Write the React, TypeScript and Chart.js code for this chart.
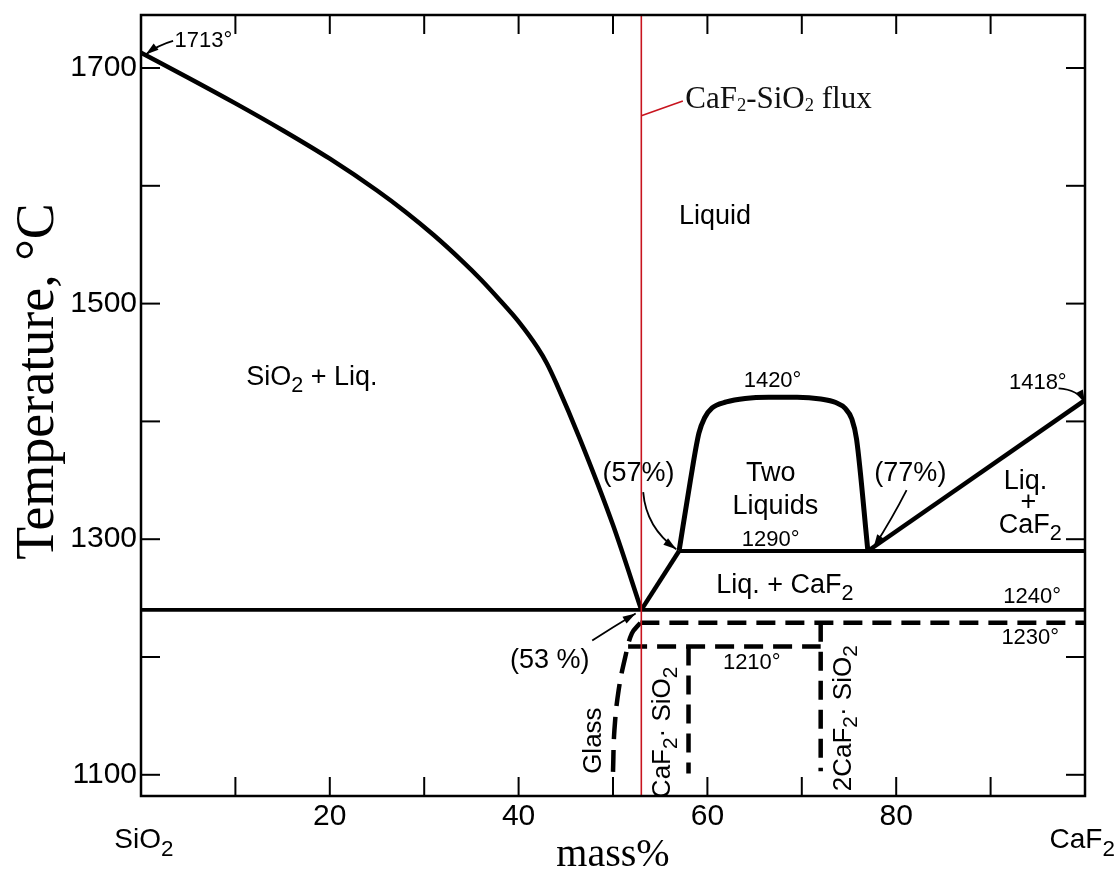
import { useEffect, useRef } from "react";
import { Chart, registerables } from "chart.js";

Chart.register(...registerables);

type Pt = [number, number];
type Note = [string, number, number];

// ---------------- axes ----------------
const X_MIN = 0;
const X_MAX = 100;
const Y_MIN = 1082;
const Y_MAX = 1745;
const xTickValues = [0, 10, 20, 30, 40, 50, 60, 70, 80, 90, 100];
const xTickLabels = ["", "", "20", "", "40", "", "60", "", "80", "", ""];
const yTickValues = [1100, 1200, 1300, 1400, 1500, 1600, 1700];
const yTickLabels = ["1100", "", "1300", "", "1500", "", "1700"];
// end-member names, placed below the composition axis (data units)
const componentNames: Note[] = [
  ["SiO_2", 0.3, 1044],
  ["CaF_2", 99.7, 1044],
];
const xTitle = "mass%";
const yTitle = "Temperature, °C";

// ---------------- phase boundaries (mass% CaF2, °C) ----------------
const silicaLiquidus: Pt[] = [
  [0, 1713], [5, 1691.8], [10, 1670], [15, 1647.2], [20, 1623], [25, 1596],
  [28, 1578], [31, 1558.2], [34, 1536.3], [36, 1520.5], [38, 1503.1],
  [40, 1484.7], [42, 1462.7], [43, 1449.2], [44, 1432.2], [46.5, 1385],
  [50, 1312], [53, 1240],
];
const eutecticBranch: Pt[] = [[53, 1240], [57, 1290]];
const twoLiquidDome: Pt[] = [
  [57, 1290], [58.2, 1350], [59.1, 1390], [59.7, 1403], [60.5, 1411.5],
  [62, 1416.5], [64, 1419.5], [66.5, 1420.5], [69.5, 1420.5], [72, 1419],
  [73.6, 1416], [74.6, 1411], [75.3, 1402], [75.8, 1385], [77, 1290],
];
const fluoriteLiquidus: Pt[] = [[77, 1290], [100, 1418]];
const monotectic1290: Pt[] = [[57, 1290], [100, 1290]];
const eutectic1240: Pt[] = [[0, 1240], [100, 1240]];
const solidus1230: Pt[] = [[52.9, 1229], [100, 1229]];
const solidus1210: Pt[] = [[51.6, 1209], [72, 1209]];
const compoundCS: Pt[] = [[58, 1209], [58, 1101]];
const compound2CS: Pt[] = [[72, 1229], [72, 1103]];
const glassCurve: Pt[] = [
  [52.9, 1229], [52.0, 1220], [51.3, 1200], [50.6, 1172], [50.15, 1138], [50, 1102],
];
const fluxLine: Pt[] = [[53, Y_MIN], [53, Y_MAX]];

// ---------------- annotations (data units) ----------------
const degreeNotes: Note[] = [
  ["1713°", 6.6, 1723],
  ["1420°", 66.9, 1434],
  ["1418°", 95.0, 1433],
  ["1290°", 66.7, 1299],
  ["1240°", 94.4, 1251],
  ["1230°", 94.2, 1216],
  ["1210°", 64.7, 1195],
];
const regionNotes: Note[] = [
  ["Liquid", 60.8, 1574],
  ["SiO_2 + Liq.", 18.1, 1437],
  ["(57%)", 52.7, 1356],
  ["Two", 66.7, 1356],
  ["Liquids", 67.2, 1328],
  ["(77%)", 81.5, 1356],
  ["Liq.", 93.7, 1349],
  ["+", 94.0, 1331],
  ["CaF_2", 94.2, 1312],
  ["Liq. + CaF_2", 68.2, 1261],
  ["(53 %)", 43.3, 1197],
];
const rotatedNotes: Note[] = [
  ["Glass", 48.0, 1129],
  ["CaF_2· SiO_2", 55.3, 1136],
  ["2CaF_2· SiO_2", 74.4, 1148],
];
const arrowNotes: Pt[][] = [
  [[3.4, 1723], [1.8, 1719.4], [0.5, 1711.5]],
  [[53.2, 1340], [53.5, 1310], [56.7, 1291.5]],
  [[81.1, 1341.7], [79.6, 1318], [77.6, 1293]],
  [[97.2, 1428], [99.3, 1427], [100, 1415.6]],
  [[47.8, 1214], [50.0, 1225.5], [52.4, 1237]],
];
const fluxNote: Note = ["CaF_2-SiO_2 flux", 57.65, 1673];
const fluxLeader: Pt[] = [[53, 1659.5], [57.4, 1672]];

const SANS = '"Liberation Sans", Arial, sans-serif';
const SERIF = '"Liberation Serif", "Times New Roman", serif';
const FLUX_RED = "#c8141e";

function drawRich(
  ctx: CanvasRenderingContext2D,
  text: string,
  x: number,
  y: number,
  size: number,
  family: string,
  align: "left" | "center" | "right",
  subScale: number,
  subDrop: number
) {
  const segs: { s: string; sub: boolean }[] = [];
  for (let i = 0; i < text.length; i++) {
    if (text[i] === "_" && i + 1 < text.length) {
      segs.push({ s: text[i + 1], sub: true });
      i++;
    } else if (segs.length && !segs[segs.length - 1].sub) {
      segs[segs.length - 1].s += text[i];
    } else {
      segs.push({ s: text[i], sub: false });
    }
  }
  const f = (sub: boolean) => `${sub ? size * subScale : size}px ${family}`;
  let total = 0;
  const widths = segs.map((seg) => {
    ctx.font = f(seg.sub);
    const w = ctx.measureText(seg.s).width;
    total += w;
    return w;
  });
  let cx = align === "center" ? x - total / 2 : align === "right" ? x - total : x;
  ctx.textAlign = "left";
  ctx.textBaseline = "middle";
  segs.forEach((seg, i) => {
    ctx.font = f(seg.sub);
    ctx.fillText(seg.s, cx, y + (seg.sub ? size * subDrop : 0));
    cx += widths[i];
  });
}

const decorPlugin = {
  id: "decor",
  afterDatasetsDraw(chart: any) {
    const { ctx, chartArea: a, scales } = chart;
    const X = (v: number) => scales.x.getPixelForValue(v);
    const Y = (v: number) => scales.y.getPixelForValue(v);
    const seg = (x1: number, y1: number, x2: number, y2: number) => {
      ctx.beginPath();
      ctx.moveTo(x1, y1);
      ctx.lineTo(x2, y2);
      ctx.stroke();
    };
    ctx.save();
    ctx.strokeStyle = "#000";
    ctx.fillStyle = "#000";
    ctx.lineWidth = 2.5;
    ctx.strokeRect(a.left, a.top, a.right - a.left, a.bottom - a.top);

    // inward tick marks on all four sides
    ctx.lineWidth = 2;
    const TL = 19;
    xTickValues
      .filter((v) => v > X_MIN && v < X_MAX)
      .forEach((v) => {
        const px = X(v);
        seg(px, a.bottom, px, a.bottom - TL);
        seg(px, a.top, px, a.top + TL);
      });
    yTickValues.forEach((v) => {
      const py = Y(v);
      seg(a.left, py, a.left + TL, py);
      seg(a.right, py, a.right - TL, py);
    });

    // component names at the ends of the composition axis
    componentNames.forEach(([t, x, y]) => {
      drawRich(ctx, t, X(x), Y(y), 28, SANS, "center", 0.8, 0.32);
    });

    // flux label with red leader
    ctx.strokeStyle = FLUX_RED;
    ctx.lineWidth = 1.6;
    seg(X(fluxLeader[0][0]), Y(fluxLeader[0][1]), X(fluxLeader[1][0]), Y(fluxLeader[1][1]));
    ctx.fillStyle = "#111";
    drawRich(ctx, fluxNote[0], X(fluxNote[1]), Y(fluxNote[2]), 31, SERIF, "left", 0.6, 0.2);

    // text annotations
    ctx.fillStyle = "#000";
    degreeNotes.forEach(([t, x, y]) => drawRich(ctx, t, X(x), Y(y), 22, SANS, "center", 0.8, 0.3));
    regionNotes.forEach(([t, x, y]) => drawRich(ctx, t, X(x), Y(y), 27, SANS, "center", 0.8, 0.32));
    rotatedNotes.forEach(([t, x, y]) => {
      ctx.save();
      ctx.translate(X(x), Y(y));
      ctx.rotate(-Math.PI / 2);
      drawRich(ctx, t, 0, 0, 26, SANS, "center", 0.8, 0.32);
      ctx.restore();
    });

    // arrows
    ctx.strokeStyle = "#000";
    ctx.lineWidth = 1.8;
    arrowNotes.forEach(([p0, p1, p2]) => {
      const x0 = X(p0[0]), y0 = Y(p0[1]);
      const x1 = X(p1[0]), y1 = Y(p1[1]);
      const x2 = X(p2[0]), y2 = Y(p2[1]);
      ctx.beginPath();
      ctx.moveTo(x0, y0);
      ctx.quadraticCurveTo(x1, y1, x2, y2);
      ctx.stroke();
      const ang = Math.atan2(y2 - y1, x2 - x1);
      const L = 13, W = 4;
      ctx.beginPath();
      ctx.moveTo(x2, y2);
      ctx.lineTo(x2 - L * Math.cos(ang) + W * Math.sin(ang), y2 - L * Math.sin(ang) - W * Math.cos(ang));
      ctx.lineTo(x2 - L * Math.cos(ang) - W * Math.sin(ang), y2 - L * Math.sin(ang) + W * Math.cos(ang));
      ctx.closePath();
      ctx.fill();
    });

    // axis titles
    ctx.save();
    ctx.translate(53, (a.top + a.bottom) / 2 - 24);
    ctx.rotate(-Math.PI / 2);
    ctx.font = `54px ${SERIF}`;
    ctx.textAlign = "center";
    ctx.textBaseline = "alphabetic";
    ctx.fillText(yTitle, 0, 0);
    ctx.restore();
    ctx.font = `40px ${SERIF}`;
    ctx.textAlign = "center";
    ctx.textBaseline = "alphabetic";
    ctx.fillText(xTitle, (a.left + a.right) / 2, 866);
    ctx.restore();
  },
};

export default function App() {
  const ref = useRef<HTMLCanvasElement>(null);
  useEffect(() => {
    document.body.style.margin = "0";
    const canvas = ref.current!;
    const line = (data: Pt[], extra: any = {}) => ({
      data: data.map(([x, y]) => ({ x, y })),
      showLine: true,
      pointRadius: 0,
      pointHoverRadius: 0,
      borderColor: "#000",
      borderWidth: 4.5,
      borderJoinStyle: "round",
      fill: false,
      ...extra,
    });
    const dashed = { borderDash: [19, 10], borderWidth: 4.5 };
    const chart = new Chart(canvas, {
      type: "scatter",
      data: {
        datasets: [
          line(fluxLine, { borderColor: FLUX_RED, borderWidth: 1.6 }),
          line(silicaLiquidus, { cubicInterpolationMode: "monotone" }),
          line(eutecticBranch),
          line(twoLiquidDome, { cubicInterpolationMode: "monotone", borderWidth: 5 }),
          line(fluoriteLiquidus),
          line(monotectic1290, { borderWidth: 4 }),
          line(eutectic1240, { borderWidth: 3.8 }),
          line(solidus1230, dashed),
          line(solidus1210, dashed),
          line(compoundCS, dashed),
          line(compound2CS, dashed),
          line(glassCurve, { ...dashed, borderDash: [22, 11], tension: 0.4 }),
        ] as any,
      },
      options: {
        animation: false,
        responsive: false,
        events: [],
        layout: { padding: { left: 0, right: 31, top: 15, bottom: 0 } },
        plugins: { legend: { display: false }, tooltip: { enabled: false } },
        scales: {
          x: {
            type: "linear",
            min: X_MIN,
            max: X_MAX,
            grid: { display: false, drawTicks: false },
            border: { display: false },
            afterBuildTicks: (s: any) => {
              s.ticks = xTickValues.map((v) => ({ value: v }));
            },
            afterFit: (s: any) => {
              s.height = 82;
              s.paddingLeft = 0;
              s.paddingRight = 0;
            },
            ticks: {
              autoSkip: false,
              maxRotation: 0,
              minRotation: 0,
              padding: 3,
              color: "#000",
              font: { family: SANS, size: 30 },
              callback: (v: any) => xTickLabels[xTickValues.indexOf(Number(v))] ?? "",
            },
          },
          y: {
            type: "linear",
            min: Y_MIN,
            max: Y_MAX,
            grid: { display: false, drawTicks: false },
            border: { display: false },
            afterBuildTicks: (s: any) => {
              s.ticks = yTickValues.map((v) => ({ value: v }));
            },
            afterFit: (s: any) => {
              s.width = 141;
              s.paddingTop = 0;
              s.paddingBottom = 0;
            },
            ticks: {
              autoSkip: false,
              padding: 4,
              color: "#000",
              font: { family: SANS, size: 30 },
              callback: (v: any) => yTickLabels[yTickValues.indexOf(Number(v))] ?? "",
            },
          },
        },
      } as any,
      plugins: [decorPlugin],
    });
    return () => chart.destroy();
  }, []);
  return <canvas ref={ref} width={1116} height={878} style={{ display: "block" }} />;
}
